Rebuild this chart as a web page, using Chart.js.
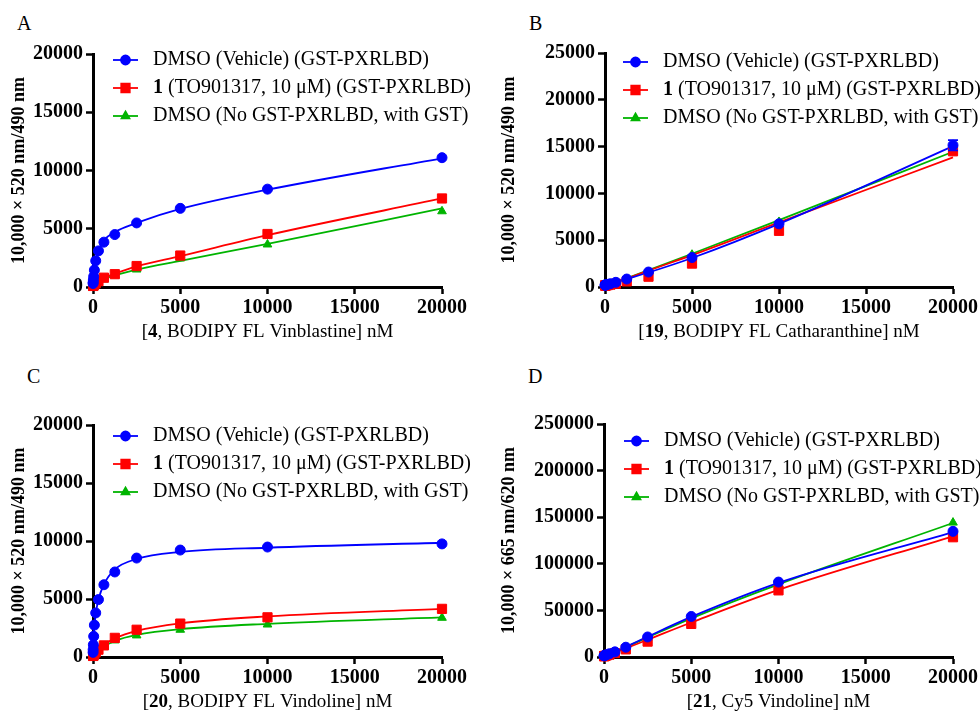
<!DOCTYPE html>
<html>
<head>
<meta charset="utf-8">
<script src="https://cdn.jsdelivr.net/npm/chart.js@4.4.1/dist/chart.umd.min.js"></script>
<style>
  body { margin: 0; background: #fff; }
  #wrap { position: relative; width: 980px; height: 713px; overflow: hidden; }
  canvas { position: absolute; }
  .letter { position: absolute; font: 20px "Liberation Serif", serif; color: #000; }
</style>
</head>
<body>
<div id="wrap">
  <div class="letter" style="left:17px;top:12px">A</div>
  <div class="letter" style="left:529px;top:12px">B</div>
  <div class="letter" style="left:27px;top:365px">C</div>
  <div class="letter" style="left:528px;top:365px">D</div>
  <canvas id="cA" width="490" height="350" style="left:0;top:0"></canvas>
  <canvas id="cB" width="490" height="350" style="left:490px;top:0"></canvas>
  <canvas id="cC" width="490" height="363" style="left:0;top:350px"></canvas>
  <canvas id="cD" width="490" height="363" style="left:490px;top:350px"></canvas>
</div>
<script>
// concentrations (nM), two-fold serial dilution
const conc = [4.88, 9.77, 19.53, 39.06, 78.13, 156.25, 312.5, 625, 1250, 2500, 5000, 10000, 20000];
const xTicks = [0, 5000, 10000, 15000, 20000];

const legendLabels = [
  [{ t: 'DMSO (Vehicle) (GST-PXRLBD)' }],
  [{ t: '1', b: true }, { t: ' (TO901317, 10 \u03bcM) (GST-PXRLBD)' }],
  [{ t: 'DMSO (No GST-PXRLBD, with GST)' }]
];

// Panel A - BODIPY FL Vinblastine
const aBlue = [300, 400, 600, 900, 1450, 2250, 3100, 3850, 4500, 5500, 6750, 8400, 11100];
const aBlueFit = [150, 280, 520, 900, 1450, 2200, 3150, 4000, 4720, 5500, 6700, 8350, 11050];
const aRed = [90, 100, 120, 160, 220, 320, 500, 800, 1100, 1800, 2700, 4550, 7600];
const aRedFit = [60, 100, 160, 240, 330, 450, 580, 780, 1150, 1780, 2650, 4450, 7600];
const aGreen = [80, 90, 100, 120, 160, 240, 380, 650, 1000, 1500, 2450, 3650, 6500];
const aGreenFit = [40, 70, 120, 200, 300, 420, 560, 720, 1000, 1500, 2250, 3700, 6750];
const aYTicks = [0, 5000, 10000, 15000, 20000];

// Panel B - BODIPY FL Catharanthine
const bBlue = [200, 200, 210, 220, 240, 280, 350, 500, 850, 1600, 3150, 6750, 15150];
const bBlueErr = [0, 0, 0, 0, 0, 0, 0, 0, 0, 0, 0, 0, 550];
const bBlueFit = [200, 200, 200, 210, 230, 260, 330, 500, 850, 1550, 3100, 6750, 15050];
const bRed = [160, 160, 160, 170, 180, 200, 250, 350, 600, 1100, 2500, 6000, 14500];
const bRedFit = [160, 165, 170, 180, 200, 250, 340, 520, 900, 1750, 3400, 6900, 13850];
const bGreen = [170, 170, 170, 180, 200, 230, 300, 450, 800, 1450, 3450, 6950, 14700];
const bGreenFit = [170, 175, 180, 190, 210, 250, 330, 500, 930, 1800, 3550, 7150, 14450];
const bYTicks = [0, 5000, 10000, 15000, 20000, 25000];

// Panel C - BODIPY FL Vindoline
const cBlue = [400, 650, 1050, 1780, 2750, 3800, 4950, 6230, 7330, 8530, 9220, 9480, 9750];
const cBlueFit = [350, 600, 1000, 1700, 2600, 3700, 4950, 6250, 7550, 8450, 9050, 9420, 9850];
const cRed = [90, 100, 120, 170, 250, 400, 630, 1000, 1650, 2350, 2880, 3420, 4150];
const cRedFit = [30, 50, 80, 130, 220, 380, 640, 1050, 1600, 2250, 2900, 3500, 4150];
const cGreen = [80, 90, 110, 150, 220, 350, 560, 900, 1430, 1860, 2350, 2800, 3380];
const cGreenFit = [20, 40, 60, 100, 180, 320, 540, 900, 1380, 1900, 2400, 2860, 3420];
const cYTicks = [0, 5000, 10000, 15000, 20000];

// Panel D - Cy5 Vindoline
const dBlue = [1300, 1400, 1500, 1700, 2000, 2500, 3500, 5500, 10500, 21500, 43500, 80400, 134800];
const dBlueFit = [1300, 1300, 1400, 1500, 1700, 2200, 3200, 5500, 10800, 21800, 43000, 79500, 134000];
const dRed = [900, 950, 1000, 1100, 1300, 1700, 2500, 4200, 8200, 16500, 35500, 71500, 128500];
const dRedFit = [800, 800, 800, 900, 1100, 1500, 2500, 4700, 9300, 18500, 37000, 72000, 129500];
const dGreen = [1100, 1100, 1200, 1300, 1500, 2000, 3000, 5000, 10000, 20000, 41000, 78000, 144200];
const dGreenFit = [1000, 1050, 1100, 1200, 1400, 1900, 2900, 5200, 10500, 21000, 41500, 78000, 143800];
const dYTicks = [0, 50000, 100000, 150000, 200000, 250000];

const BLUE = '#0000ff', RED = '#ff0000', GREEN = '#00b400';
const FONT = '"Liberation Serif", "Times New Roman", serif';
Chart.defaults.font.family = FONT;
Chart.defaults.color = '#000';

const markers = [
  { color: BLUE, style: 'circle', r: 5, lr: 4.5 },
  { color: RED, style: 'rect', r: 6.5, lr: 6 },
  { color: GREEN, style: 'triangle', r: 5, lr: 4.5 }
];

function xy(ys) { return conc.map((x, i) => ({ x: x, y: ys[i] })); }

function drawParts(ctx, parts, x, y, size, align) {
  const widths = parts.map(p => {
    ctx.font = (p.b ? 'bold ' : '') + size + 'px ' + FONT;
    return ctx.measureText(p.t).width;
  });
  const total = widths.reduce((a, b) => a + b, 0);
  let cx = align === 'center' ? x - total / 2 : x;
  ctx.textAlign = 'left';
  ctx.textBaseline = 'middle';
  parts.forEach((p, i) => {
    ctx.font = (p.b ? 'bold ' : '') + size + 'px ' + FONT;
    ctx.fillText(p.t, cx, y);
    cx += widths[i];
  });
}

const decor = {
  id: 'decor',
  afterDatasetsDraw(chart, args, o) {
    const { ctx } = chart;
    const xs = chart.scales.x, ys = chart.scales.y;
    ctx.save();
    chart.data.datasets.forEach(ds => {
      if (!ds.err) return;
      ctx.strokeStyle = ds.borderColor;
      ctx.lineWidth = 1.8;
      ds.data.forEach((p, i) => {
        const e = ds.err[i];
        if (!e) return;
        const px = xs.getPixelForValue(p.x);
        const top = ys.getPixelForValue(p.y + e), bot = ys.getPixelForValue(p.y - e);
        ctx.beginPath();
        ctx.moveTo(px, top); ctx.lineTo(px, bot);
        ctx.moveTo(px - 5, top); ctx.lineTo(px + 5, top);
        ctx.moveTo(px - 5, bot); ctx.lineTo(px + 5, bot);
        ctx.stroke();
      });
    });
    ctx.restore();
  },
  afterDraw(chart, args, o) {
    const { ctx, chartArea } = chart;
    ctx.save();
    ctx.fillStyle = '#000';
    drawParts(ctx, o.xTitle, (chartArea.left + chartArea.right) / 2, chartArea.bottom + 45, 19, 'center');
    legendLabels.forEach((parts, i) => {
      const m = markers[i];
      const y = o.legY + i * 28;
      ctx.strokeStyle = m.color;
      ctx.fillStyle = m.color;
      ctx.lineWidth = 1.8;
      ctx.beginPath();
      ctx.moveTo(o.legX, y); ctx.lineTo(o.legX + 25, y);
      ctx.stroke();
      Chart.helpers.drawPoint(ctx, { pointStyle: m.style, radius: m.lr, rotation: 0, borderWidth: 1 }, o.legX + 12.5, y);
      ctx.fillStyle = '#000';
      drawParts(ctx, parts, o.legX + 40, y, 20, 'left');
    });
    ctx.restore();
  }
};

function makeChart(id, area, h, yTicks, yTitle, xTitle, leg, pts, fits, errs) {
  const datasets = [];
  pts.forEach((ys, i) => {
    const m = markers[i];
    datasets.push({
      data: xy(ys), showLine: false, clip: false, err: errs ? errs[i] : null,
      pointStyle: m.style, pointRadius: m.r, pointBackgroundColor: m.color,
      pointBorderColor: m.color, pointBorderWidth: 1, borderColor: m.color
    });
  });
  fits.forEach((ys, i) => {
    datasets.push({
      data: xy(ys), showLine: true, clip: false, pointRadius: 0,
      borderColor: markers[i].color, borderWidth: 1.8,
      cubicInterpolationMode: 'monotone'
    });
  });
  const axisStyle = {
    border: { display: true, color: '#000', width: 3 },
    grid: { display: true, drawOnChartArea: false, drawTicks: true, tickLength: 7, tickWidth: 2.5, tickColor: '#000' }
  };
  return new Chart(document.getElementById(id), {
    type: 'line',
    data: { datasets: datasets },
    options: {
      responsive: false, animation: false,
      layout: { padding: { left: 0, top: area.t, right: 490 - area.r, bottom: 0 } },
      plugins: { legend: { display: false }, tooltip: { enabled: false }, decor: { xTitle: xTitle, legX: leg.x, legY: leg.y } },
      scales: {
        x: Object.assign({
          type: 'linear', min: 0, max: 20000,
          afterBuildTicks: s => { s.ticks = xTicks.map(v => ({ value: v })); },
          afterFit: s => { s.height = h - area.b; },
          ticks: { font: { size: 20, weight: 'bold' }, color: '#000', padding: 2, maxRotation: 0, callback: v => String(v) }
        }, axisStyle),
        y: Object.assign({
          type: 'linear', min: 0, max: yTicks[yTicks.length - 1],
          afterBuildTicks: s => { s.ticks = yTicks.map(v => ({ value: v })); },
          afterFit: s => { s.width = area.l; },
          ticks: { font: { size: 20, weight: 'bold' }, color: '#000', padding: 3, callback: v => String(v) },
          title: { display: true, text: yTitle, font: { size: 18, weight: 'bold' }, color: '#000', padding: { top: 9, bottom: 0 } }
        }, axisStyle)
      }
    },
    plugins: [decor]
  });
}

const yTitle490 = '10,000 \u00d7 520 nm/490 nm';
const yTitle620 = '10,000 \u00d7 665 nm/620 nm';

makeChart('cA', { l: 93, t: 54, r: 442, b: 287 }, 350, aYTicks, yTitle490,
  [{ t: '[' }, { t: '4', b: true }, { t: ', BODIPY FL Vinblastine] nM' }],
  { x: 113, y: 60 }, [aBlue, aRed, aGreen], [aBlueFit, aRedFit, aGreenFit]);

makeChart('cB', { l: 115, t: 53, r: 464, b: 287 }, 350, bYTicks, yTitle490,
  [{ t: '[' }, { t: '19', b: true }, { t: ', BODIPY FL Catharanthine] nM' }],
  { x: 133, y: 62 }, [bBlue, bRed, bGreen], [bBlueFit, bRedFit, bGreenFit], [bBlueErr, null, null]);

makeChart('cC', { l: 93, t: 75, r: 442, b: 307 }, 363, cYTicks, yTitle490,
  [{ t: '[' }, { t: '20', b: true }, { t: ', BODIPY FL Vindoline] nM' }],
  { x: 113, y: 86 }, [cBlue, cRed, cGreen], [cBlueFit, cRedFit, cGreenFit]);

makeChart('cD', { l: 114, t: 74, r: 464, b: 307 }, 363, dYTicks, yTitle620,
  [{ t: '[' }, { t: '21', b: true }, { t: ', Cy5 Vindoline] nM' }],
  { x: 134, y: 91 }, [dBlue, dRed, dGreen], [dBlueFit, dRedFit, dGreenFit]);
</script>
</body>
</html>
